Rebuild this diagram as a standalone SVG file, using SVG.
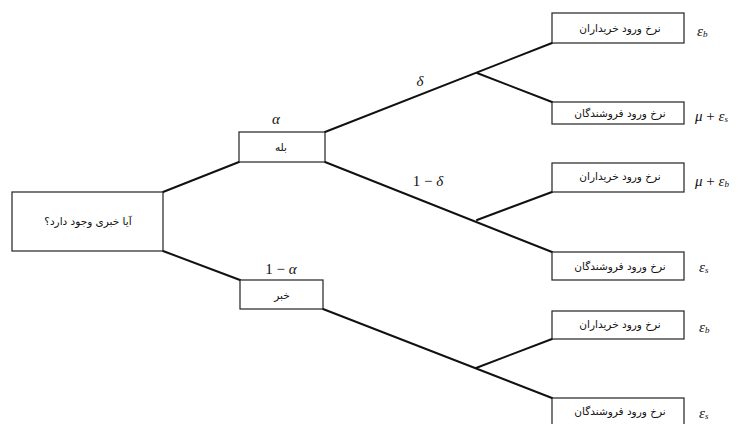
<svg xmlns="http://www.w3.org/2000/svg" width="740" height="424" viewBox="0 0 740 424">
<style>
.box{fill:#fff;stroke:#222;stroke-width:1.2}
.ln{stroke:#111;stroke-width:2;fill:none;stroke-linecap:round}
.fa{font-family:"DejaVu Sans",sans-serif;font-size:10.5px;fill:#111;text-anchor:middle;dominant-baseline:central}
.m{font-family:"Liberation Serif",serif;font-size:15px;fill:#111;font-style:italic;dominant-baseline:central}
.up{font-style:normal}
</style>
<rect width="740" height="424" fill="#fff"/>
<g id="connectors">
<line class="ln" x1="163" y1="192" x2="239" y2="162"/>
<line class="ln" x1="163" y1="251" x2="240" y2="280"/>
<line class="ln" x1="325" y1="132" x2="552" y2="43"/>
<line class="ln" x1="477" y1="73" x2="552" y2="102"/>
<line class="ln" x1="325" y1="162" x2="552" y2="252"/>
<line class="ln" x1="477" y1="220" x2="552" y2="192"/>
<line class="ln" x1="323" y1="309" x2="552" y2="398"/>
<line class="ln" x1="476" y1="368" x2="552" y2="339"/>
</g>
<g id="edge-labels">
<text class="m" x="276" y="119" text-anchor="middle">α</text>
<text class="m" x="281" y="269" text-anchor="middle"><tspan class="up">1 − </tspan>α</text>
<text class="m" x="420" y="81" text-anchor="middle">δ</text>
<text class="m" x="428" y="181" text-anchor="middle"><tspan class="up">1 − </tspan>δ</text>
</g>
<g id="root">
<rect class="box" x="12" y="192" width="151" height="59"/>
<text class="fa" x="88" y="221">آیا خبری وجود دارد؟</text>
</g>
<g id="yes">
<rect class="box" x="239" y="132" width="86" height="30"/>
<text class="fa" x="281" y="147">بله</text>
</g>
<g id="no">
<rect class="box" x="240" y="280" width="83" height="29"/>
<text class="fa" x="282" y="295">خبر</text>
</g>
<g id="leaf1">
<rect class="box" x="552" y="13" width="132" height="30"/>
<text class="fa" x="620" y="28">نرخ ورود خریداران</text>
<text class="m" x="697" y="31">ε<tspan font-size="9" dy="3">b</tspan></text>
</g>
<g id="leaf2">
<rect class="box" x="552" y="102" width="132" height="22"/>
<text class="fa" x="620" y="113">نرخ ورود فروشندگان</text>
<text class="m" x="695" y="116">μ <tspan class="up">+</tspan> ε<tspan font-size="9" dy="3">s</tspan></text>
</g>
<g id="leaf3">
<rect class="box" x="552" y="163" width="132" height="29"/>
<text class="fa" x="620" y="176">نرخ ورود خریداران</text>
<text class="m" x="695" y="181">μ <tspan class="up">+</tspan> ε<tspan font-size="9" dy="3">b</tspan></text>
</g>
<g id="leaf4">
<rect class="box" x="552" y="252" width="132" height="28"/>
<text class="fa" x="620" y="266">نرخ ورود فروشندگان</text>
<text class="m" x="699" y="267">ε<tspan font-size="9" dy="3">s</tspan></text>
</g>
<g id="leaf5">
<rect class="box" x="552" y="311" width="132" height="28"/>
<text class="fa" x="620" y="324">نرخ ورود خریداران</text>
<text class="m" x="699" y="327">ε<tspan font-size="9" dy="3">b</tspan></text>
</g>
<g id="leaf6">
<rect class="box" x="552" y="398" width="132" height="30"/>
<text class="fa" x="620" y="411">نرخ ورود فروشندگان</text>
<text class="m" x="699" y="413">ε<tspan font-size="9" dy="3">s</tspan></text>
</g>
</svg>
